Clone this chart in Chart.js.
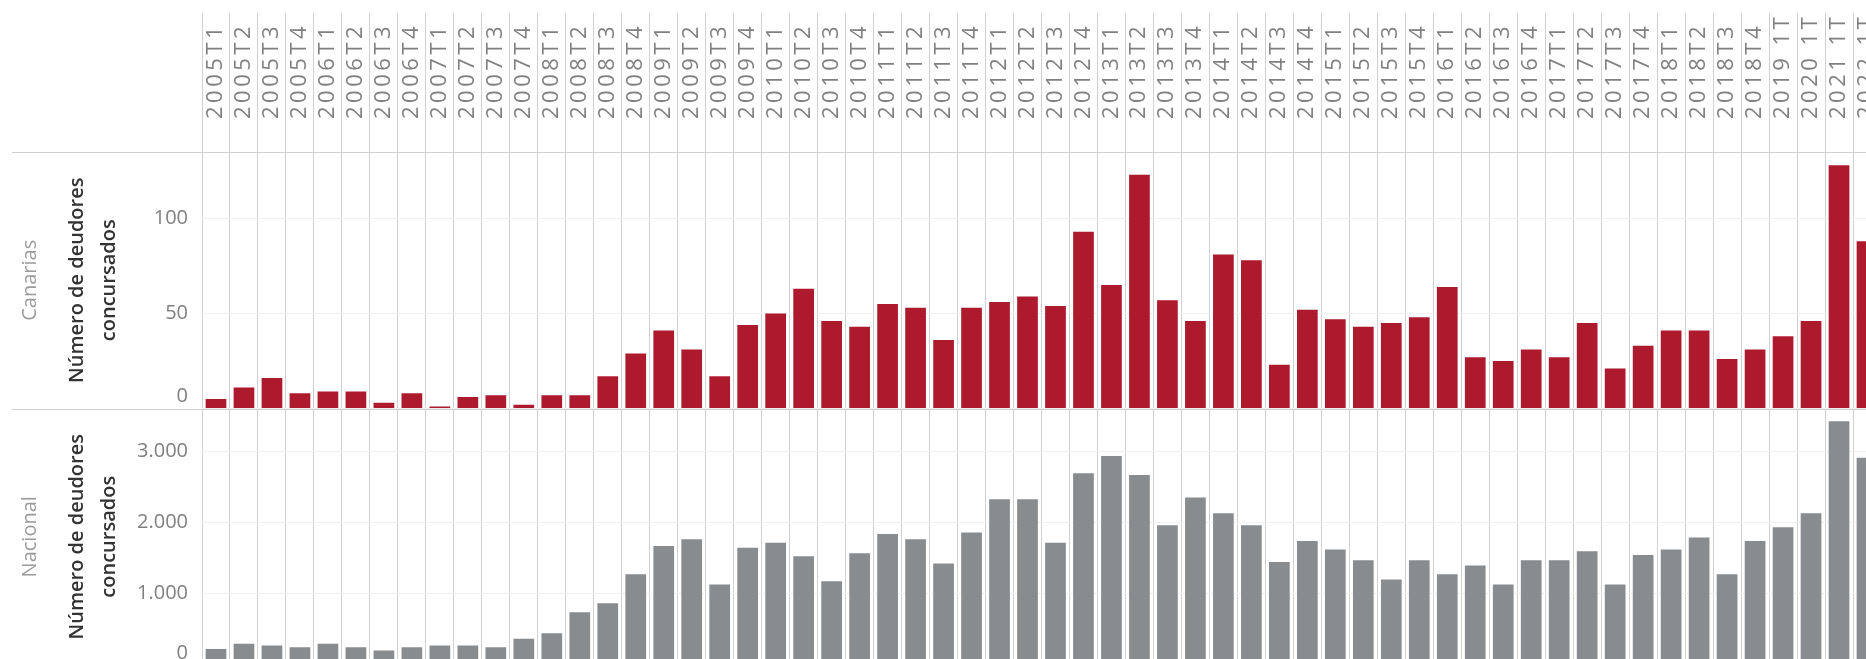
<!DOCTYPE html>
<html lang="es">
<head>
  <meta charset="UTF-8">
  <title>Número de deudores concursados</title>
  <script src="https://cdn.jsdelivr.net/npm/chart.js"></script>
  <style>
    html, body { margin: 0; padding: 0; background: #fff; overflow: hidden; }
    canvas { display: block; }
  </style>
</head>
<body>
<canvas id="deudores" width="1881" height="668"></canvas>

<script>
  // Trimestres (the last one is cut by the right edge of the view)
  const periods = [
    '2005T1', '2005T2', '2005T3', '2005T4', '2006T1', '2006T2', '2006T3', '2006T4',
    '2007T1', '2007T2', '2007T3', '2007T4', '2008T1', '2008T2', '2008T3', '2008T4',
    '2009T1', '2009T2', '2009T3', '2009T4', '2010T1', '2010T2', '2010T3', '2010T4',
    '2011T1', '2011T2', '2011T3', '2011T4', '2012T1', '2012T2', '2012T3', '2012T4',
    '2013T1', '2013T2', '2013T3', '2013T4', '2014T1', '2014T2', '2014T3', '2014T4',
    '2015T1', '2015T2', '2015T3', '2015T4', '2016T1', '2016T2', '2016T3', '2016T4',
    '2017T1', '2017T2', '2017T3', '2017T4', '2018T1', '2018T2', '2018T3', '2018T4',
    '2019 1T', '2020 1T', '2021 1T', '2022 1T'
  ];

  // Número de deudores concursados - Canarias
  const canarias = [
    5, 11, 16, 8, 9, 9, 3, 8,
    1, 6, 7, 2, 7, 7, 17, 29,
    41, 31, 17, 44, 50, 63, 46, 43,
    55, 53, 36, 53, 56, 59, 54, 93,
    65, 123, 57, 46, 81, 78, 23, 52,
    47, 43, 45, 48, 64, 27, 25, 31,
    27, 45, 21, 33, 41, 41, 26, 31,
    38, 46, 128, 88
  ];

  // Número de deudores concursados - Nacional
  const nacional = [
    225, 300, 275, 250, 300, 250, 205, 250,
    275, 275, 250, 370, 445, 740, 865, 1275,
    1670, 1765, 1130, 1645, 1715, 1525, 1175, 1570,
    1840, 1765, 1425, 1860, 2325, 2325, 1715, 2690,
    2935, 2665, 1960, 2350, 2130, 1960, 1445, 1740,
    1620, 1470, 1200, 1470, 1275, 1395, 1130, 1470,
    1470, 1595, 1130, 1545, 1620, 1790, 1275, 1740,
    1935, 2130, 3420, 2910
  ];

  // axis ticks of each panel
  const canariasTicks = [0, 50, 100];
  const nacionalTicks = [0, 1000, 2000, 3000];

  const RED = '#AD1A2E';
  const GREY = '#898C8F';
  const LINE = '#d0d0d0';
  const FONT = "'Open Sans', 'Noto Sans', sans-serif";

  // 3000 -> "3.000"
  const fmt = v => String(v).replace(/\B(?=(\d{3})+(?!\d))/g, '.');
  // lift the "0" label a bit, like the original does
  const tickLabel = v => (v === 0 ? ['0', ''] : fmt(v));

  // header labels are drawn after the bars (ticks.z = 1) with wider spacing;
  // horizontal separators run across the row headers too
  const panelLines = {
    id: 'panelLines',
    afterDatasetsDraw(chart) {
      chart.ctx.letterSpacing = '3.5px';
    },
    afterDraw(chart) {
      const { ctx, scales } = chart;
      ctx.letterSpacing = '0px';
      ctx.save();
      ctx.strokeStyle = LINE;
      ctx.lineWidth = 1;
      [scales.yC.top, scales.yN.top].forEach(y => {
        const yy = Math.round(y) + 0.5;
        ctx.beginPath();
        ctx.moveTo(scales.nameC.left, yy);
        ctx.lineTo(chart.width, yy);
        ctx.stroke();
      });
      ctx.restore();
    }
  };

  const nameAxis = (text) => ({
    type: 'linear',
    position: 'left',
    stack: 'names',
    stackWeight: 1,
    weight: 1,
    ticks: { display: false },
    grid: { display: false, drawTicks: false },
    border: { display: false },
    title: {
      display: true,
      text: text,
      color: '#9b9b9b',
      font: { family: FONT, size: 20 },
      padding: { top: 6, bottom: 0 }
    },
    afterFit: s => { s.width = 40; s.paddingTop = 0; s.paddingBottom = 0; }
  });

  const valueAxis = (max, tickValues) => ({
    type: 'linear',
    position: 'left',
    stack: 'values',
    stackWeight: 1,
    weight: 0,
    min: 0,
    max: max,
    afterBuildTicks: s => { s.ticks = tickValues.map(v => ({ value: v })); },
    ticks: {
      padding: 14,
      color: '#808080',
      font: { family: FONT, size: 20 },
      callback: tickLabel
    },
    grid: { color: '#f1f1f1', drawTicks: false },
    border: { display: false },
    title: {
      display: true,
      text: ['Número de deudores', 'concursados'],
      color: '#333333',
      font: { family: FONT, size: 20, weight: '600', lineHeight: '32px' },
      padding: { top: 9, bottom: 0 }
    },
    afterFit: s => { s.width = 150; s.paddingTop = 0; s.paddingBottom = 0; }
  });

  const ctx = document.getElementById('deudores').getContext('2d');
  new Chart(ctx, {
    type: 'bar',
    data: {
      labels: periods,
      datasets: [
        {
          label: 'Canarias',
          data: canarias,
          yAxisID: 'yC',
          backgroundColor: RED,
          grouped: false,
          barPercentage: 0.74,
          categoryPercentage: 1
        },
        {
          label: 'Nacional',
          data: nacional,
          yAxisID: 'yN',
          backgroundColor: GREY,
          grouped: false,
          barPercentage: 0.74,
          categoryPercentage: 1
        }
      ]
    },
    options: {
      responsive: false,
      animation: false,
      devicePixelRatio: 1,
      layout: { padding: { top: 0, left: 12, right: 0, bottom: 3 } },
      plugins: {
        legend: { display: false },
        tooltip: { enabled: false }
      },
      scales: {
        x: {
          type: 'category',
          position: 'top',
          offset: true,
          grid: {
            offset: true,
            color: LINE,
            tickColor: LINE,
            drawTicks: true,
            tickLength: 139
          },
          border: { display: false },
          ticks: {
            z: 1,
            autoSkip: false,
            minRotation: 90,
            maxRotation: 90,
            padding: -106,
            color: '#808080',
            font: { family: FONT, size: 22, lineHeight: 0.01 }
          },
          afterFit: s => { s.height = 152; s.paddingLeft = 0; s.paddingRight = 0; }
        },
        nameN: nameAxis('Nacional'),
        nameC: nameAxis('Canarias'),
        yN: valueAxis(3600, nacionalTicks),
        yC: valueAxis(135, canariasTicks)
      }
    },
    plugins: [panelLines]
  });
</script>
</body>
</html>
